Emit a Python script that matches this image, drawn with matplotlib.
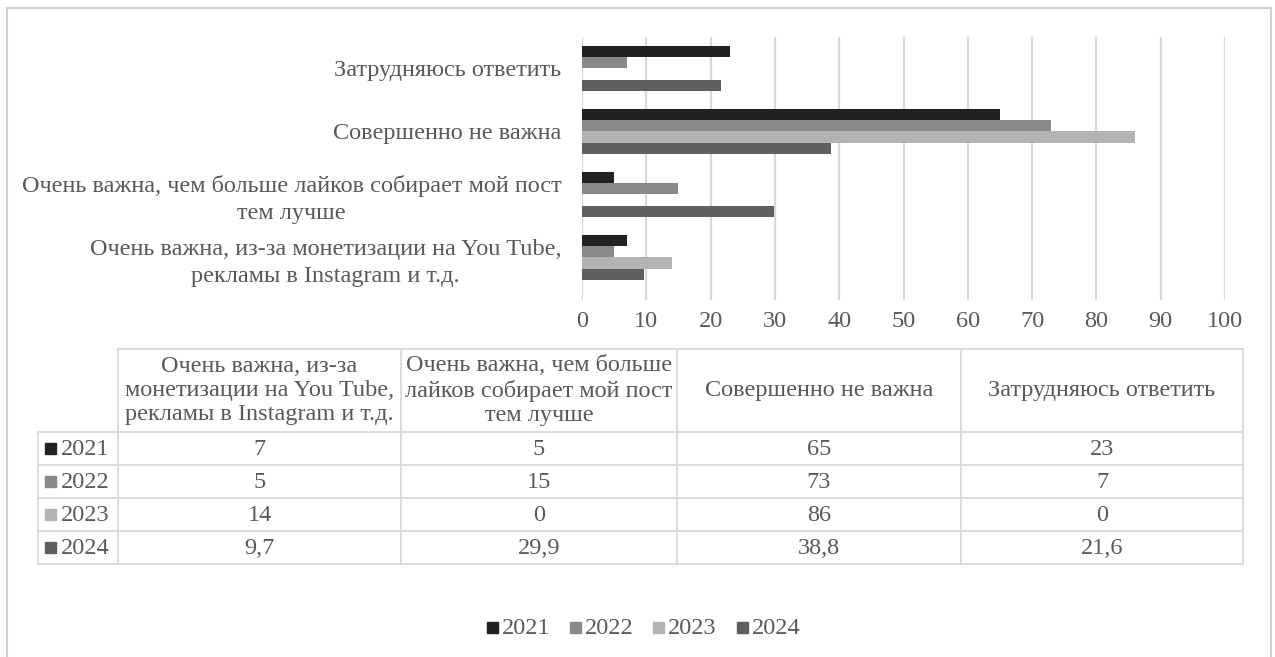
import matplotlib
matplotlib.use("Agg")
import matplotlib.pyplot as plt
from matplotlib.patches import Rectangle

plt.rcParams['font.family'] = ['Liberation Serif', 'DejaVu Serif']

W, H = 1275, 657
DPI = 100

categories = [
    "Очень важна, из-за монетизации на You Tube,\nрекламы в Instagram и т.д.",
    "Очень важна, чем больше лайков собирает мой пост\nтем лучше",
    "Совершенно не важна",
    "Затрудняюсь ответить",
]
table_headers = [
    "Очень важна, из-за\nмонетизации на You Tube,\nрекламы в Instagram и т.д.",
    "Очень важна, чем больше\nлайков собирает мой пост\nтем лучше",
    "Совершенно не важна",
    "Затрудняюсь ответить",
]
years = ["2021", "2022", "2023", "2024"]
v2021 = [7, 5, 65, 23]
v2022 = [5, 15, 73, 7]
v2023 = [14, 0, 86, 0]
v2024 = [9.7, 29.9, 38.8, 21.6]
series = [v2021, v2022, v2023, v2024]
colors = ["#222222", "#898989", "#b3b3b3", "#5f5f5f"]
xticks = [0, 10, 20, 30, 40, 50, 60, 70, 80, 90, 100]

TXT = "#595959"
GRID = "#d9d9d9"
FS = 17.5

fig = plt.figure(figsize=(W / DPI, H / DPI), dpi=DPI)
fig.patch.set_facecolor("white")

# overlay axes in pixel coordinates
ov = fig.add_axes([0, 0, 1, 1])
ov.set_xlim(0, W)
ov.set_ylim(H, 0)
ov.axis("off")
ov.set_zorder(0)

# outer frame
ov.plot([7, 7], [H + 5, 8], color="#d0d0d0", lw=1.5)
ov.plot([7, 1271], [8, 8], color="#d0d0d0", lw=1.5)
ov.plot([1271, 1271], [8, H + 5], color="#d0d0d0", lw=1.5)

# bar chart axes
ax_l, ax_r = 582, 1225
ax_t, ax_b = 37, 300
ax = fig.add_axes([ax_l / W, 1 - ax_b / H, (ax_r - ax_l) / W, (ax_b - ax_t) / H])
ax.set_zorder(1)
ax.patch.set_alpha(0)
bh = 0.18
for i, (vals, c) in enumerate(zip(series, colors)):
    pos = [k + (1.5 - i) * bh for k in range(len(categories))]
    ax.barh(pos, vals, height=bh, color=c, edgecolor="none", zorder=3)
ax.set_xlim(0, 100)
ax.set_ylim(-0.675, 3.5)
ax.set_xticks(xticks)
ax.set_xticklabels([str(t) for t in xticks], fontsize=FS, color=TXT)
ax.set_yticks(range(len(categories)))
ax.set_yticklabels(categories, fontsize=FS, color=TXT)
for lab in ax.get_yticklabels():
    lab.set_multialignment("center")
    lab.set_linespacing(1.35)
ax.tick_params(axis="y", length=0, pad=15)
ax.tick_params(axis="x", length=0, pad=8)
ax.grid(axis="x", color=GRID, lw=1.6, zorder=0)
for s in ax.spines.values():
    s.set_visible(False)

# data table
col_x = [38, 118, 401, 677, 961, 1243]
row_y = [349, 432, 465, 498, 531, 564]
lc = "#d9d9d9"
lw = 1.3
ov.plot([col_x[1], col_x[-1]], [row_y[0], row_y[0]], color=lc, lw=lw)
for y in row_y[1:]:
    ov.plot([col_x[0], col_x[-1]], [y, y], color=lc, lw=lw)
ov.plot([col_x[0], col_x[0]], [row_y[1], row_y[-1]], color=lc, lw=lw)
for x in col_x[1:]:
    ov.plot([x, x], [row_y[0], row_y[-1]], color=lc, lw=lw)

for j, h in enumerate(table_headers):
    cx = (col_x[j + 1] + col_x[j + 2]) / 2
    cy = (row_y[0] + row_y[1]) / 2
    ov.text(cx, cy, h, ha="center", va="center", fontsize=FS, color=TXT,
            multialignment="center", linespacing=1.2)


def fmt(v):
    if float(v).is_integer():
        return str(int(v))
    return str(v).replace(".", ",")


for i, (yr, vals, c) in enumerate(zip(years, series, colors)):
    cy = (row_y[i + 1] + row_y[i + 2]) / 2
    ov.add_patch(Rectangle((45, cy - 5.5), 11, 11, color=c))
    ov.text(61, cy + 1, yr, ha="left", va="center", fontsize=FS, color=TXT)
    for j, v in enumerate(vals):
        cx = (col_x[j + 1] + col_x[j + 2]) / 2
        ov.text(cx, cy + 1, fmt(v), ha="center", va="center", fontsize=FS, color=TXT)

# legend
leg_x = [487, 570, 653, 737]
leg_y = 627
for x, yr, c in zip(leg_x, years, colors):
    ov.add_patch(Rectangle((x, leg_y - 5.5), 11, 11, color=c))
    ov.text(x + 15, leg_y + 1, yr, ha="left", va="center", fontsize=FS, color=TXT)

fig.savefig("out.png", dpi=DPI, facecolor="white")
